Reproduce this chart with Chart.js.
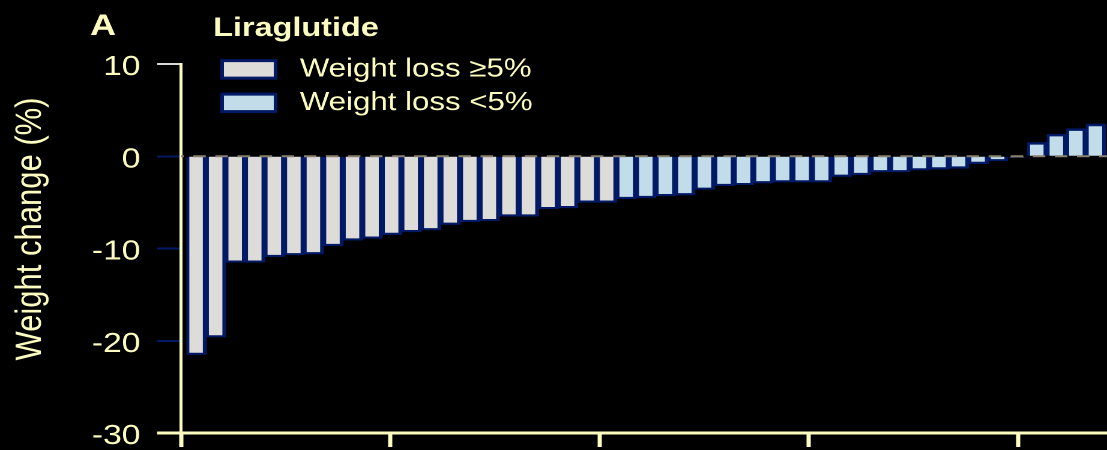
<!DOCTYPE html>
<html>
<head>
<meta charset="utf-8">
<script src="https://cdn.jsdelivr.net/npm/chart.js@4.4.1/dist/chart.umd.min.js"></script>
<style>
  html, body { margin: 0; padding: 0; background: #000; overflow: hidden; }
  /* the figure is drawn at 922px wide and widened to the 1107px slide width */
  #wrap { width: 922px; height: 450px; transform: scaleX(1.20065); transform-origin: 0 0; }
  canvas { display: block; }
</style>
</head>
<body>
<div id="wrap"><canvas id="chart" width="922" height="450"></canvas></div>
<script>
// Weight change (%) per patient, sorted from largest loss to largest gain
const lossAtLeast5 = [-21.5, -19.6, -11.5, -11.5, -10.9, -10.7, -10.6, -9.7, -9.1, -8.9, -8.5,
                      -8.2, -8.0, -7.4, -7.1, -7.0, -6.5, -6.5, -5.7, -5.6, -5.0, -5.0];
const lossBelow5 = [-4.6, -4.5, -4.3, -4.2, -3.6, -3.2, -3.1, -2.9, -2.8, -2.8, -2.8, -2.2, -2.0,
                    -1.7, -1.7, -1.5, -1.4, -1.3, -0.8, -0.5, -0.1, 1.5, 2.4, 3.0, 3.5];
const seriesNames = ['Weight loss \u22655%', 'Weight loss <5%'];
const panelLetter = 'A';
const drugName = 'Liraglutide';
const yTitle = 'Weight change (%)';

const CREAM = '#fdfcc0';
const NAVY = '#021a66';
const GREY_FILL = '#dedcd8';
const BLUE_FILL = '#c2dde9';
const FONT = '"Liberation Sans", Arial, Helvetica, sans-serif';

// patients are ranked left to right
const rankedA = lossAtLeast5.map((v, i) => ({ x: i + 1, y: v }));
const rankedB = lossBelow5.map((v, i) => ({ x: lossAtLeast5.length + i + 1, y: v }));

const barStyle = {
  borderColor: NAVY,
  borderWidth: { left: 2.5, right: 3.2, top: 2.6, bottom: 2.2 },
  borderSkipped: 'start',
  barPercentage: 1,
  categoryPercentage: 1,
  grouped: false,
  xAxisID: 'x',
  yAxisID: 'y'
};

// dashed reference line at 0 %
const zeroLine = {
  id: 'zeroLine',
  afterDatasetsDraw(chart) {
    const { ctx, chartArea } = chart;
    const y0 = chart.scales.y.getPixelForValue(0);
    ctx.save();
    ctx.strokeStyle = '#8a8070';
    ctx.lineWidth = 2;
    ctx.setLineDash([10.4, 8.0]);
    ctx.lineDashOffset = 8.2;
    ctx.beginPath();
    ctx.moveTo(chartArea.left, y0);
    ctx.lineTo(chartArea.right, y0);
    ctx.stroke();
    ctx.restore();
  }
};

// legend sits above the top-left of the plot
const placeLegend = {
  id: 'placeLegend',
  afterLayout(chart) {
    const lg = chart.legend;
    lg.left = 177.5; lg.top = 5;
    lg.width = 420; lg.height = 140;
    lg.right = lg.left + lg.width; lg.bottom = lg.top + lg.height;
  }
};

// panel letter and rotated y-axis title
const labels = {
  id: 'labels',
  afterDraw(chart) {
    const ctx = chart.ctx;
    ctx.save();
    ctx.fillStyle = CREAM;
    ctx.font = 'bold 30px ' + FONT;
    ctx.textAlign = 'left';
    ctx.textBaseline = 'alphabetic';
    ctx.fillText(panelLetter, 75, 35);
    ctx.translate(25.4, 229);
    ctx.rotate(-Math.PI / 2);
    ctx.font = '31px ' + FONT;
    ctx.textAlign = 'center';
    ctx.textBaseline = 'middle';
    ctx.fillText(yTitle, 0, 0);
    ctx.restore();
  }
};

new Chart(document.getElementById('chart'), {
  type: 'bar',
  data: {
    datasets: [
      Object.assign({ label: seriesNames[0], data: rankedA, backgroundColor: GREY_FILL }, barStyle),
      Object.assign({ label: seriesNames[1], data: rankedB, backgroundColor: BLUE_FILL }, barStyle)
    ]
  },
  options: {
    responsive: false,
    devicePixelRatio: 2,
    animation: false,
    events: [],
    layout: { padding: { top: 64, left: 0, right: 0, bottom: 0 } },
    scales: {
      x: {
        type: 'linear', min: 0.21, max: 47.57, display: false,
        offset: false, grid: { offset: false }
      },
      xt: {
        type: 'linear', position: 'bottom', min: 0, max: 4.425, offset: false,
        ticks: { display: false, stepSize: 1, includeBounds: false },
        grid: { offset: false, drawOnChartArea: false, drawTicks: true, tickLength: 14, tickWidth: 3.5, tickColor: CREAM },
        border: { display: true, color: CREAM, width: 3 },
        afterFit(scale) { scale.height = 17; scale.paddingLeft = 0; scale.paddingRight = 0; }
      },
      y: {
        min: -30, max: 10,
        ticks: {
          stepSize: 10, color: CREAM, padding: 13.8, labelOffset: 3.5,
          font: { family: FONT, size: 28 }
        },
        grid: {
          drawOnChartArea: false, drawTicks: true, tickLength: 20,
          tickWidth: (c) => (c.tick && c.tick.value === -30 ? 3 : 2),
          tickColor: (c) => {
            const v = c.tick && c.tick.value;
            if (v === 10) return '#d9d9d9';
            if (v === -30) return CREAM;
            return NAVY;
          }
        },
        border: { display: true, color: CREAM, width: 2.5 },
        afterFit(scale) { scale.width = 150.8; scale.paddingTop = 0; scale.paddingBottom = 0; }
      }
    },
    plugins: {
      tooltip: { enabled: false },
      legend: {
        position: 'chartArea',
        align: 'start',
        title: {
          display: true, text: drugName, position: 'start', color: CREAM,
          font: { family: FONT, size: 27, weight: 'bold' },
          padding: { top: 10, bottom: 1.5 }
        },
        labels: {
          color: CREAM,
          font: { family: FONT, size: 26 },
          boxWidth: 44.5, boxHeight: 17.5, padding: 7.5,
          generateLabels(chart) {
            const items = Chart.defaults.plugins.legend.labels.generateLabels(chart);
            items.forEach((it) => { it.text = ' ' + it.text; it.lineWidth = 3; });
            return items;
          }
        }
      }
    }
  },
  plugins: [zeroLine, placeLegend, labels]
});
</script>
</body>
</html>
